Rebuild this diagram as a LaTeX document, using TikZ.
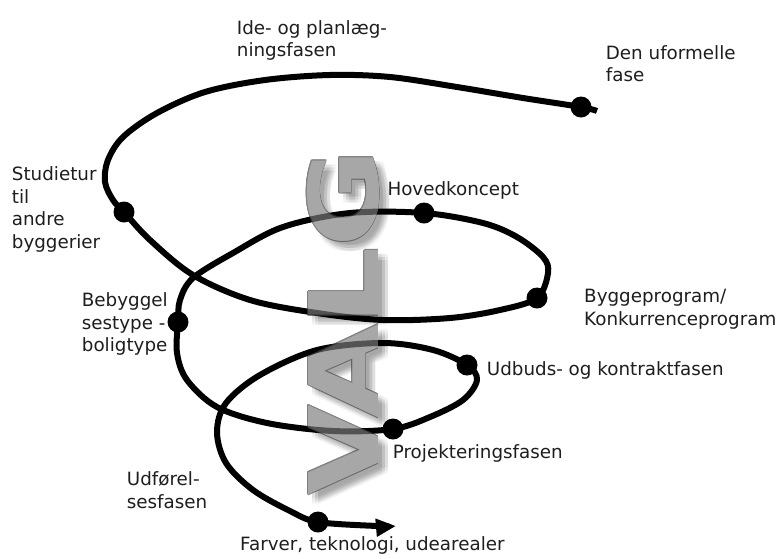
\documentclass[tikz,border=0pt]{standalone}
\usepackage{fontspec}
\usepackage{graphicx}
\setmainfont{DejaVu Sans}
\newfontfamily\valgfont{DejaVu Sans}
\usetikzlibrary{arrows.meta}
\definecolor{txt}{HTML}{1E1E1E}
\definecolor{vfill}{HTML}{7C7C7C}
\definecolor{vline}{HTML}{404040}
\tikzset{
  lbl/.style={anchor=base west, inner sep=0pt, align=left, text=txt,
    font=\fontsize{18.3}{22.5}\selectfont},
  dot/.style={circle, fill=black, minimum size=21pt, inner sep=0pt},
  spiral/.style={line width=6pt, black, line join=round},
  vl/.style={rotate=90, anchor=base, inner sep=0pt,
    font=\fontsize{96}{100}\valgfont\bfseries}
}
\newcommand\valgword[3]{%
  \begin{scope}[shift={#2}]
    \node[vl,#3] (#1V) at (378,450) {\scalebox{1.22}[1]{V}};
    \node[vl,#3] (#1A) at (378,371) {\scalebox{1.27}[1]{A}};
    \node[vl,#3] (#1L) at (378,287) {\scalebox{1.3}[1]{L}};
    \node[vl,#3] (#1G) at (378,198) {\scalebox{1.25}[1]{G}};
  \end{scope}}
\begin{document}
\begin{tikzpicture}[x=1pt,y=-1pt]
\useasboundingbox (0,0) rectangle (780,558);
\fill[white] (0,0) rectangle (780,558);

% soft shadow of VALG
\valgword{sa}{(4,4)}{text=black,text opacity=0.045}
\valgword{sb}{(7,7)}{text=black,text opacity=0.045}
\valgword{sc}{(10,10)}{text=black,text opacity=0.045}
\valgword{sd}{(4,10)}{text=black,text opacity=0.045}
\valgword{se}{(10,4)}{text=black,text opacity=0.045}
\valgword{sf}{(7,4)}{text=black,text opacity=0.045}
\valgword{sg}{(4,7)}{text=black,text opacity=0.045}
\valgword{sh}{(10,7)}{text=black,text opacity=0.045}
\valgword{si}{(7,10)}{text=black,text opacity=0.045}
\valgword{w}{(0,0)}{text=white}

% phase dots
\node[dot] (d1) at (581,107) {};
\node[dot] (d2) at (124,212) {};
\node[dot] (d3) at (537,298) {};
\node[dot] (d4) at (424,213) {};
\node[dot] (d5) at (178,322) {};
\node[dot] (d6) at (393,429) {};
\node[dot] (d7) at (467,365) {};
\node[dot] (d8) at (318,522) {};

% spiral
\draw[spiral, -{Triangle[length=20pt,width=17pt]}] plot[smooth, tension=0.55] coordinates {
  (597,111) (d1) (523,98) (457,87) (390,77) (330,75) (265,80) (205,92)
  (157,113) (123,137) (108,160) (105,182) (113,200) (d2)
  (150,240) (193,275) (250,300) (317,313) (383,320) (450,318) (500,310) (d3)
  (548,273) (543,257) (517,237) (483,223) (d4)
  (350,213) (283,227) (233,253) (193,278) (180,300) (d5)
  (177,353) (187,380) (217,407) (267,423) (333,431) (d6)
  (430,417) (463,400) (477,380) (d7)
  (433,350) (383,343) (317,350) (260,375) (226,403) (217,432) (226,463)
  (253,490) (290,511) (d8) (377,526) (396,526)};

% VALG letters
\begin{scope}[transparency group, opacity=0.67]
\valgword{oa}{(0.9,0)}{text=vline}
\valgword{ob}{(-0.9,0)}{text=vline}
\valgword{oc}{(0,0.9)}{text=vline}
\valgword{od}{(0,-0.9)}{text=vline}
\valgword{oe}{(0.65,0.65)}{text=vline}
\valgword{of}{(-0.65,0.65)}{text=vline}
\valgword{og}{(0.65,-0.65)}{text=vline}
\valgword{oh}{(-0.65,-0.65)}{text=vline}
\valgword{f}{(0,0)}{text=vfill}
\end{scope}

% labels (anchored at the baseline of their last line)
\node[lbl] (ide) at (236.7,56.5) {Ide- og planlæg-\\ningsfasen};
\node[lbl] (den) at (605.7,81.5) {Den uformelle\\fase};
\node[lbl] (stud) at (11.7,248.3) {Studietur\\til\\andre\\byggerier};
\node[lbl] (hoved) at (387.3,195) {Hovedkoncept};
\node[lbl] (bygge) at (584,325) {Byggeprogram/\\Konkurrenceprogram};
\node[lbl] (bebyg) at (81.7,351.5) {Bebyggel\\sestype -\\boligtype};
\node[lbl] (udbud) at (486.7,375) {Udbuds- og kontraktfasen};
\node[lbl] (proj) at (392.7,458.3) {Projekteringsfasen};
\node[lbl] (udf) at (126.7,508.3) {Udførel-\\sesfasen};
\node[lbl] (farv) at (240,550) {Farver, teknologi, udearealer};
\end{tikzpicture}
\end{document}
